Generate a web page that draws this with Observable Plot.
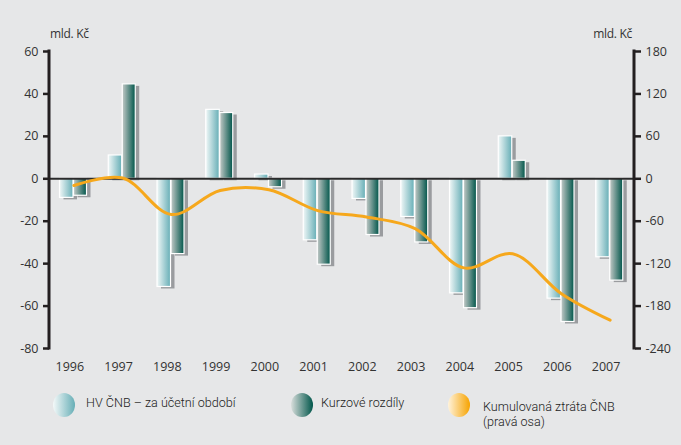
<!DOCTYPE html>
<html>
<head>
<meta charset="utf-8">
<script src="https://cdn.jsdelivr.net/npm/d3@7"></script>
<script src="https://cdn.jsdelivr.net/npm/@observablehq/plot@0.6"></script>
<style>
  html, body { margin: 0; padding: 0; background: #e6e7e8; }
  #wrap { position: relative; width: 681px; height: 445px; background: #e6e7e8; overflow: hidden;
          font-family: "Open Sans", sans-serif; color: #333; }
  #chart { position: absolute; left: 0; top: 0; }
  .unit { position: absolute; top: 25px; font-size: 12px; color: #333; letter-spacing: -0.3px; }
  .leg { position: absolute; font-family: Roboto, sans-serif; font-weight: 300; font-size: 12.6px; color: #222; line-height: 15px; white-space: nowrap; }
  .dot { position: absolute; width: 22px; height: 24px; border-radius: 50%; }
</style>
</head>
<body>
<div id="wrap">
  <div id="chart"></div>
  <div class="unit" style="left:50px;">mld. Kč</div>
  <div class="unit" style="right:49px;">mld. Kč</div>
  <div class="dot" style="left:53px; top:393px; background: linear-gradient(to right, #f4f9f9, #66aeb6);"></div>
  <div class="leg" style="left:86px; top:395px;">HV ČNB – za účetní období</div>
  <div class="dot" style="left:291px; top:393px; background: linear-gradient(to right, #d9dedc, #00564a);"></div>
  <div class="leg" style="left:321px; top:395px;">Kurzové rozdíly</div>
  <div class="dot" style="left:448px; top:393px; background: linear-gradient(to right, #fff3dc, #f6a300);"></div>
  <div class="leg" style="left:483px; top:399px;">Kumulovaná ztráta ČNB</div>
  <div class="leg" style="left:483px; top:413.5px;">(pravá osa)</div>
</div>
<script>
const years = [1996, 1997, 1998, 1999, 2000, 2001, 2002, 2003, 2004, 2005, 2006, 2007];
const hvCNB = [-9, 11, -51, 32.5, 2, -29, -9.5, -18, -54, 20, -56.5, -37];
const kurzoveRozdily = [-8, 44.5, -35.5, 31, -4, -40.5, -26.5, -30, -61, 8.5, -67.5, -48];
const kumulovanaZtrata = [-9.5, 1, -50.5, -16.5, -15.5, -45, -54, -70.5, -126, -106, -162.5, -200];
const leftTicks = [60, 40, 20, 0, -20, -40, -60, -80];

const rows = years.map((y, i) => ({
  year: String(y), hv: hvCNB[i], kurz: kurzoveRozdily[i], cum: kumulovanaZtrata[i] / 3
}));

const bw = (681 - 49 - 47) / years.length;

function defs() {
  const d = d3.create("svg:defs");
  const g1 = d.append("linearGradient").attr("id", "gLight").attr("x1", 0).attr("x2", 1).attr("y1", 0).attr("y2", 0);
  g1.append("stop").attr("offset", "0%").attr("stop-color", "#f0f7f7");
  g1.append("stop").attr("offset", "100%").attr("stop-color", "#66aeb6");
  const g2 = d.append("linearGradient").attr("id", "gDark").attr("x1", 0).attr("x2", 1).attr("y1", 0).attr("y2", 0);
  g2.append("stop").attr("offset", "0%").attr("stop-color", "#c4cac8");
  g2.append("stop").attr("offset", "100%").attr("stop-color", "#00554a");
  return d.node();
}

function axisLines(index, scales, values, dims) {
  const g = d3.create("svg:g").attr("stroke", "#231f20").attr("stroke-width", 3);
  const y0 = scales.y(leftTicks[0]) - 1.5, y1 = scales.y(leftTicks[leftTicks.length - 1]) + 1.5;
  const xl = dims.marginLeft, xr = dims.width - dims.marginRight;
  g.append("line").attr("x1", xl).attr("x2", xl).attr("y1", y0).attr("y2", y1);
  g.append("line").attr("x1", xr).attr("x2", xr).attr("y1", y0).attr("y2", y1);
  return g.node();
}

const plot = Plot.plot({
  width: 681,
  height: 385,
  marginLeft: 49,
  marginRight: 47,
  marginTop: 51,
  marginBottom: 37,
  style: { fontFamily: "Open Sans, sans-serif", fontSize: "12.5px", color: "#333", background: "transparent" },
  x: { type: "band", domain: years.map(String), padding: 0, round: false, label: null },
  y: { domain: [-80, 60], label: null },
  marks: [
    defs,
    Plot.axisY({ anchor: "left", ticks: leftTicks, tickFormat: d => String(d), tickSize: 6, tickPadding: 5, strokeWidth: 2.5, stroke: "#231f20", label: null }),
    Plot.axisY({ anchor: "right", ticks: leftTicks, tickFormat: d => String(d * 3), tickSize: 6, tickPadding: 5, strokeWidth: 2.5, stroke: "#231f20", label: null }),
    Plot.axisX({ tickSize: 0, tickPadding: 14, dx: -4, label: null }),
    Plot.barY(rows, { x: "year", y: "hv", insetLeft: 10.5, insetRight: bw - 24, dx: 4, dy: 2, fill: "#9a9c9f" }),
    Plot.barY(rows, { x: "year", y: "hv", insetLeft: 10.5, insetRight: bw - 24, fill: "url(#gLight)", stroke: "white", strokeWidth: 1.2 }),
    Plot.barY(rows, { x: "year", y: "kurz", insetLeft: 24.5, insetRight: bw - 37.5, dx: 4, dy: 2, fill: "#9a9c9f" }),
    Plot.barY(rows, { x: "year", y: "kurz", insetLeft: 24.5, insetRight: bw - 37.5, fill: "url(#gDark)", stroke: "white", strokeWidth: 1.2 }),
    Plot.ruleY([0], { stroke: "#2b2b2b", strokeWidth: 2 }),
    axisLines,
    Plot.line(rows, { x: "year", y: "cum", curve: "catmull-rom", stroke: "#f6a81c", strokeWidth: 3, strokeLinecap: "round" })
  ]
});
document.getElementById("chart").appendChild(plot);
</script>
</body>
</html>
